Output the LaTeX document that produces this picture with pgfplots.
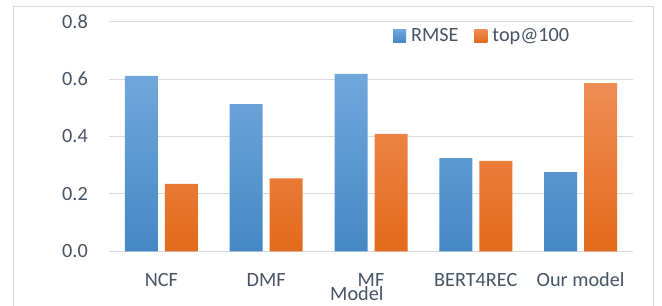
\documentclass[border=0pt]{standalone}
\usepackage{pgfplots}
\pgfplotsset{compat=1.18}
\usepackage{fontspec}
\setmainfont{Carlito}
\definecolor{txt}{RGB}{70,84,102}
\definecolor{gridc}{RGB}{217,217,217}
\definecolor{frame}{RGB}{217,217,217}
\definecolor{btop}{RGB}{114,167,220}
\definecolor{bmid}{RGB}{91,155,213}
\definecolor{bbot}{RGB}{68,136,198}
\definecolor{otop}{RGB}{240,141,85}
\definecolor{omid}{RGB}{244,126,42}
\definecolor{obot}{RGB}{226,106,26}
\begin{document}
\begin{tikzpicture}
\useasboundingbox (-109bp,-54.7bp) rectangle (553bp,251.3bp);
\fill[white] (-109bp,-54.7bp) rectangle (553bp,251.3bp);
\draw[frame, line width=0.9bp] (-96bp,-70bp) rectangle (544bp,245.3bp);
\begin{axis}[
  at={(0,0)}, anchor=south west,
  scale only axis, width=524bp, height=229.6bp,
  xmin=-0.5, xmax=4.5, ymin=0, ymax=0.8,
  ybar=7bp, bar width=33bp,
  xtick={0,1,2,3,4},
  xticklabels={NCF,DMF,MF,BERT4REC,Our model},
  ytick={0,0.2,0.4,0.6,0.8},
  /pgf/number format/fixed,
  /pgf/number format/fixed zerofill,
  /pgf/number format/precision=1,
  /pgf/number format/assume math mode=true,
  yticklabel style={anchor=east, inner sep=0pt, xshift=-21bp},
  xticklabel style={anchor=base, inner sep=0pt, yshift=-34.7bp},
  ticklabel style={font=\fontsize{20.3}{24}\selectfont, text=txt},
  axis line style={draw=none},
  major tick length=0pt,
  ymajorgrids, grid style={gridc, line width=0.9bp},
  xlabel={Model},
  xlabel style={at={(rel axis cs:0.473,0)}, anchor=base, inner sep=0pt, yshift=-48.7bp, font=\fontsize{20.3}{24}\selectfont, text=txt},
  legend columns=2,
  legend style={at={(rel axis cs:0.712,0.939)}, anchor=center, draw=none, fill=none,
    font=\fontsize{20.3}{24}\selectfont, text=txt,
    /tikz/every odd column/.append style={column sep=3bp},
    /tikz/every even column/.append style={column sep=14bp}},
  legend image code/.code={\path[#1,draw=none] (0bp,-6.5bp) rectangle (13bp,6.5bp);},
]
\addplot[draw=none, top color=btop, middle color=bmid, bottom color=bbot] coordinates {(0,0.611) (1,0.513) (2,0.618) (3,0.325) (4,0.276)};
\addplot[draw=none, top color=otop, middle color=omid, bottom color=obot] coordinates {(0,0.235) (1,0.254) (2,0.409) (3,0.315) (4,0.586)};
\legend{RMSE,top@100}
\end{axis}
\end{tikzpicture}
\end{document}
